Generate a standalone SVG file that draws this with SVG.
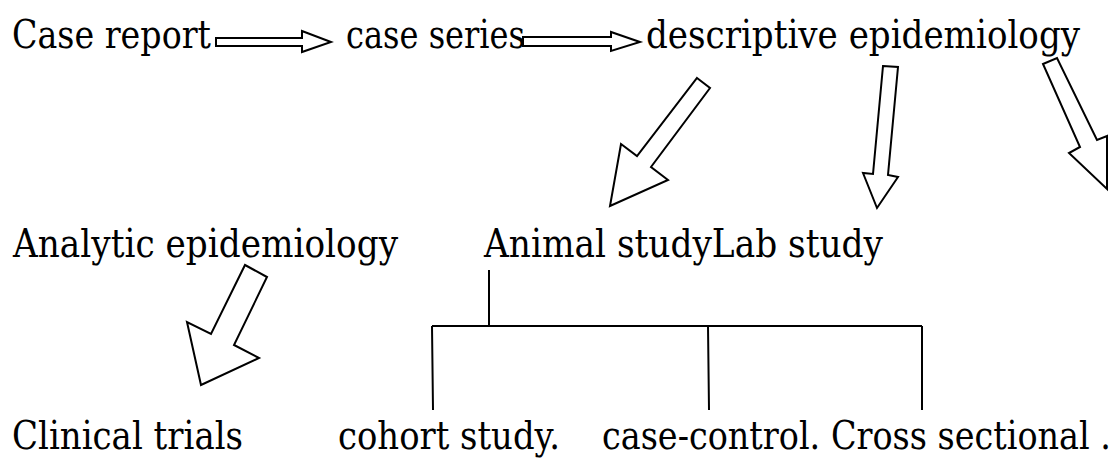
<svg xmlns="http://www.w3.org/2000/svg" width="1115" height="458" viewBox="0 0 1115 458">
<style>
text{font-family:"DejaVu Serif","Liberation Serif","Times New Roman",serif;font-size:39px;fill:#000}
.ar{fill:#fff;stroke:#000;stroke-width:2;stroke-linejoin:miter}
.ln{fill:none;stroke:#000;stroke-width:2}
</style>
<rect width="1115" height="458" fill="#fff"/>
<g id="connectors">
<polygon class="ar" points="216,38 302,38 302,31 331,42 302,52 302,46 216,46"/>
<polygon class="ar" points="523,37 611,37 611,32 640,42 611,51 611,46 523,46"/>
<polygon class="ar" points="697,78 710,88 651,167 668,180 610,206 621,144 637,156"/>
<polygon class="ar" points="883,66 898,67 888,175 898,177 877,208 863,173 873,174"/>
<polygon class="ar" points="1043,64 1057,58 1097,140 1107,136 1107,189 1069,153 1080,147"/>
<polygon class="ar" points="245,265 267,277 234,345 259,358 201,385 187,322 211,334"/>
<path class="ln" d="M489,270 V326 M432,326 H922 M432,326 L433,410 M708,326 L709,410 M922,326 V410"/>
</g>
<g id="case-report"><text x="12" y="48" textLength="199" lengthAdjust="spacingAndGlyphs">Case report</text></g>
<g id="case-series"><text x="346" y="48" textLength="179" lengthAdjust="spacingAndGlyphs">case series</text></g>
<g id="descriptive"><text x="646" y="48" textLength="434" lengthAdjust="spacingAndGlyphs">descriptive epidemiology</text></g>
<g id="analytic"><text x="13" y="257" textLength="385" lengthAdjust="spacingAndGlyphs">Analytic epidemiology</text></g>
<g id="animal-lab"><text x="484" y="257" textLength="399" lengthAdjust="spacingAndGlyphs">Animal studyLab study</text></g>
<g id="clinical"><text x="12" y="449" textLength="231" lengthAdjust="spacingAndGlyphs">Clinical trials</text></g>
<g id="cohort"><text x="338" y="449" textLength="222" lengthAdjust="spacingAndGlyphs">cohort study.</text></g>
<g id="case-control"><text x="602" y="449" textLength="509" lengthAdjust="spacingAndGlyphs">case-control. Cross sectional .</text></g>
</svg>
